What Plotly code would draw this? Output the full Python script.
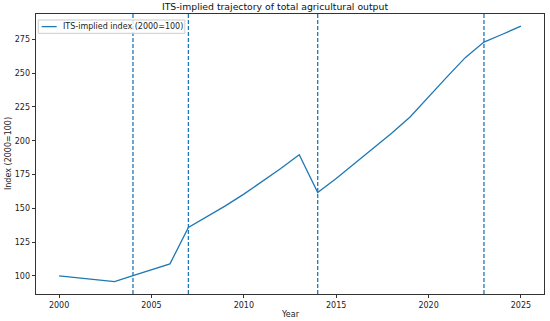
import plotly.graph_objects as go

years = list(range(2000, 2026))
index_values = [100.0, 98.6, 97.2, 95.8, 100.2, 104.6, 108.9, 135.8, 143.6, 151.8,
                160.5, 169.7, 179.4, 189.7, 161.7, 172.0, 183.0, 193.9, 205.6, 217.6,
                232.7, 247.3, 261.7, 273.0, 278.8, 284.8]
break_years = [2004, 2007, 2014, 2023]
x_ticks = [2000, 2005, 2010, 2015, 2020, 2025]
y_ticks = [100, 125, 150, 175, 200, 225, 250, 275]
series_name = "ITS-implied index (2000=100)"

blue = "#1f77b4"
font = "DejaVu Sans"

fig = go.Figure()
fig.add_trace(go.Scatter(x=years, y=index_values, mode="lines",
                         line=dict(color=blue, width=1.3),
                         name=series_name, showlegend=False))

for yr in break_years:
    fig.add_shape(type="line", x0=yr, x1=yr, xref="x", y0=0, y1=1, yref="paper",
                  line=dict(color=blue, width=1.3, dash="4px,2px"))

# legend box (matplotlib style)
fig.add_shape(type="rect", xref="paper", yref="paper", x0=0.0045, x1=0.293,
              y0=0.931, y1=0.9786, line=dict(color="#cccccc", width=1),
              fillcolor="rgba(255,255,255,0.8)", layer="above")
fig.add_shape(type="line", xref="paper", yref="paper", x0=0.0112, x1=0.0407,
              y0=0.955, y1=0.955, line=dict(color=blue, width=1.3), layer="above")
fig.add_annotation(text=series_name, x=0.05, xref="paper", xanchor="left",
                   y=0.955, yref="paper", yanchor="middle",
                   showarrow=False, font=dict(size=8))

fig.add_annotation(text="Year", x=0.5, xref="paper", xanchor="center",
                   y=-0.072, yref="paper", yanchor="middle",
                   showarrow=False, font=dict(size=8))
fig.add_annotation(text="Index (2000=100)", x=-0.055, xref="paper", xanchor="center",
                   y=0.5, yref="paper", yanchor="middle", textangle=-90,
                   showarrow=False, font=dict(size=8))

fig.update_layout(
    width=550, height=321,
    margin=dict(l=36, r=6, t=14, b=27),
    paper_bgcolor="white", plot_bgcolor="white",
    font=dict(family=font, size=8, color="#222"),
    title=dict(text="ITS-implied trajectory of total agricultural output",
               x=0.5, xanchor="center", y=0.988, yanchor="top",
               font=dict(size=9.3, color="#111")),
    showlegend=False,
    xaxis=dict(range=[1998.75, 2026.25], tickvals=x_ticks,
               ticktext=[str(v) for v in x_ticks], automargin=False,
               showgrid=False, zeroline=False, showline=True, linecolor="#333",
               linewidth=0.8, mirror=True, ticks="outside", ticklen=3.5,
               tickcolor="#333", tickwidth=0.8),
    yaxis=dict(range=[86.6, 293.8], tickvals=y_ticks,
               ticktext=[str(v) for v in y_ticks], automargin=False,
               showgrid=False, zeroline=False, showline=True, linecolor="#333",
               linewidth=0.8, mirror=True, ticks="outside", ticklen=3.5,
               tickcolor="#333", tickwidth=0.8),
)

fig.write_html("out.html", config={"displayModeBar": False},
               post_script="document.body.style.margin='0px';")
